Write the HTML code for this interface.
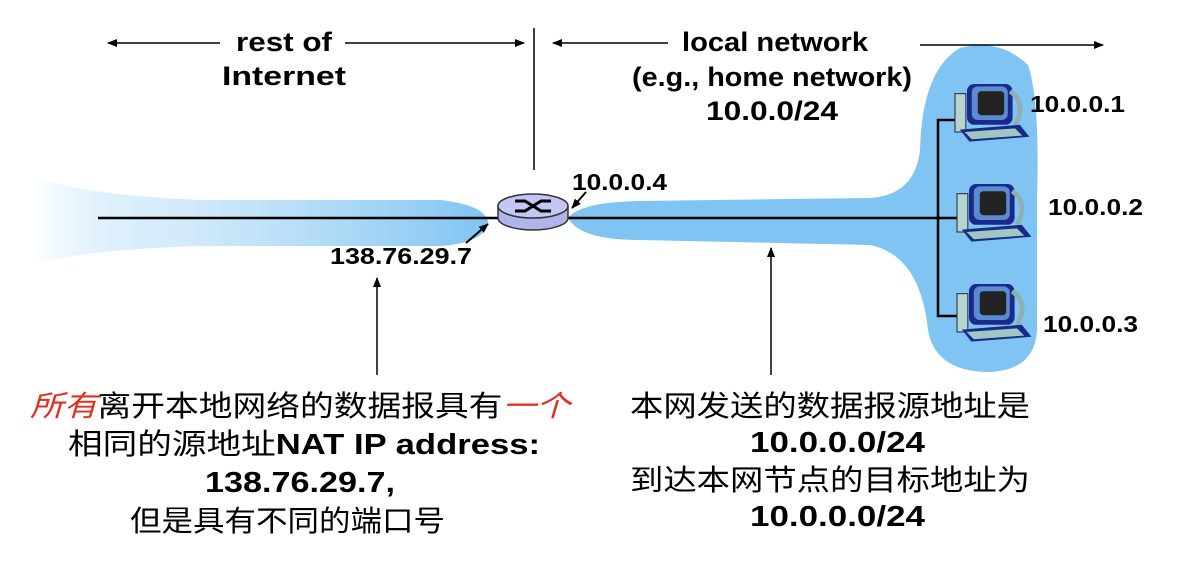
<!DOCTYPE html>
<html><head><meta charset="utf-8"><style>
html,body{margin:0;padding:0;background:#fff;}
svg{display:block}
text{font-family:"Liberation Sans","Noto Sans CJK SC",sans-serif;fill:#000}
</style></head><body>
<svg width="1180" height="586" viewBox="0 0 1180 586" xmlns="http://www.w3.org/2000/svg">
<defs>
<linearGradient id="g" x1="0" x2="1" y1="0" y2="0">
<stop offset="0" stop-color="#7fc4f2" stop-opacity="0"/>
<stop offset="0.3" stop-color="#b9dff7" stop-opacity="0.6"/>
<stop offset="1" stop-color="#7fc4f2"/>
</linearGradient>
<marker id="a" markerWidth="10" markerHeight="8" refX="9" refY="4" orient="auto" markerUnits="userSpaceOnUse"><path d="M0,0 L10,4 L0,8 Z" fill="#000"/></marker>
<g id="pc">
<rect x="0" y="8" width="9" height="32" fill="#b8d4d0" stroke="#345" stroke-width="1"/>
<rect x="10" y="0" width="38" height="34" rx="6" fill="#1a2a8a"/>
<rect x="14" y="2" width="30" height="28" rx="5" fill="#5a8ad0"/>
<rect x="19" y="6" width="22" height="20" rx="3" fill="#222"/>
<path d="M46,6 Q60,16 50,34" stroke="#8fb0b0" stroke-width="4" fill="none"/>
<path d="M4,38 L54,34 L62,44 L12,48 Z" fill="#1a2a8a"/>
<path d="M8,40 L50,37 L56,43 L14,46 Z" fill="#a0c8c0"/>
</g>
</defs>
<path d="M30,175 Q80,195 200,200 L440,200 Q485,205 488,222 Q485,243 440,246 L200,246 Q80,250 30,265 Z" fill="url(#g)"/>
<path d="M568,218 Q580,202 640,201 L870,198 Q915,195 920,150 Q922,70 960,48 Q1000,38 1028,65 Q1040,100 1037,200 L1037,330 Q1035,372 985,372 Q935,370 928,330 Q920,255 870,245 L640,240 Q580,240 568,218 Z" fill="#7fc4f2"/>
<line x1="98" y1="218" x2="500" y2="218" stroke="#000" stroke-width="2.5"/>
<line x1="566" y1="218" x2="940" y2="218" stroke="#000" stroke-width="2.5"/>
<polyline points="965,120 938,120 938,316 962,316" fill="none" stroke="#000" stroke-width="2.5"/>
<line x1="938" y1="218" x2="962" y2="218" stroke="#000" stroke-width="2.5"/>
<use href="#pc" transform="translate(955,84) scale(1.2)"/>
<use href="#pc" transform="translate(957,184) scale(1.2)"/>
<use href="#pc" transform="translate(957,284) scale(1.2)"/>
<path d="M498,206 L498,218 A35,12 0 0 0 568,218 L568,206" fill="#b0b4e8" stroke="#333" stroke-width="1.5"/>
<ellipse cx="533" cy="206" rx="35" ry="12" fill="#c4c6f4" stroke="#333" stroke-width="1.5"/>
<path d="M515,201 L525,201 L541,211 L551,211 M515,211 L525,211 L541,201 L551,201" stroke="#000" stroke-width="3" fill="none"/>
<line x1="534" y1="28" x2="534" y2="170" stroke="#000" stroke-width="1.5"/>
<line x1="220" y1="43" x2="108" y2="43" stroke="#000" stroke-width="1.5" marker-end="url(#a)"/>
<line x1="345" y1="43" x2="524" y2="43" stroke="#000" stroke-width="1.5" marker-end="url(#a)"/>
<line x1="668" y1="43" x2="553" y2="43" stroke="#000" stroke-width="1.5" marker-end="url(#a)"/>
<line x1="920" y1="45" x2="1103" y2="45" stroke="#000" stroke-width="1.5" marker-end="url(#a)"/>
<line x1="466" y1="243" x2="488" y2="224" stroke="#000" stroke-width="2" marker-end="url(#a)"/>
<line x1="586" y1="192" x2="572" y2="208" stroke="#000" stroke-width="2" marker-end="url(#a)"/>
<line x1="377" y1="375" x2="377" y2="278" stroke="#000" stroke-width="1.5" marker-end="url(#a)"/>
<line x1="771" y1="375" x2="771" y2="248" stroke="#000" stroke-width="1.5" marker-end="url(#a)"/>
<g font-size="27" font-weight="bold" lengthAdjust="spacingAndGlyphs">
<text x="236" y="51" textLength="96" lengthAdjust="spacingAndGlyphs">rest of</text>
<text x="222" y="85" textLength="124" lengthAdjust="spacingAndGlyphs">Internet</text>
<text x="682" y="51" textLength="186" lengthAdjust="spacingAndGlyphs">local network</text>
<text x="632" y="86" textLength="280" lengthAdjust="spacingAndGlyphs">(e.g., home network)</text>
<text x="706" y="120" textLength="132" lengthAdjust="spacingAndGlyphs">10.0.0/24</text>
</g>
<g font-size="23" font-weight="bold">
<text x="572" y="190" textLength="95" lengthAdjust="spacingAndGlyphs">10.0.0.4</text>
<text x="330" y="264" textLength="142" lengthAdjust="spacingAndGlyphs">138.76.29.7</text>
<text x="1030" y="112" textLength="95" lengthAdjust="spacingAndGlyphs">10.0.0.1</text>
<text x="1048" y="215" textLength="95" lengthAdjust="spacingAndGlyphs">10.0.0.2</text>
<text x="1043" y="332" textLength="95" lengthAdjust="spacingAndGlyphs">10.0.0.3</text>
</g>
<g font-size="29">
<text x="30" y="416" textLength="540" lengthAdjust="spacingAndGlyphs"><tspan fill="#e03020" font-style="italic">所有</tspan>离开本地网络的数据报具有<tspan fill="#e03020" font-style="italic">一个</tspan></text>
<text x="68" y="454" textLength="472" lengthAdjust="spacingAndGlyphs">相同的源地址<tspan font-weight="bold">NAT IP address:</tspan></text>
<text x="205" y="492" font-weight="bold" textLength="190" lengthAdjust="spacingAndGlyphs">138.76.29.7,</text>
<text x="130" y="531" textLength="315" lengthAdjust="spacingAndGlyphs">但是具有不同的端口号</text>
<text x="630" y="416" textLength="400" lengthAdjust="spacingAndGlyphs">本网发送的数据报源地址是</text>
<text x="750" y="452" font-weight="bold" textLength="175" lengthAdjust="spacingAndGlyphs">10.0.0.0/24</text>
<text x="630" y="490" textLength="400" lengthAdjust="spacingAndGlyphs">到达本网节点的目标地址为</text>
<text x="750" y="526" font-weight="bold" textLength="175" lengthAdjust="spacingAndGlyphs">10.0.0.0/24</text>
</g>
</svg>
</body></html>
